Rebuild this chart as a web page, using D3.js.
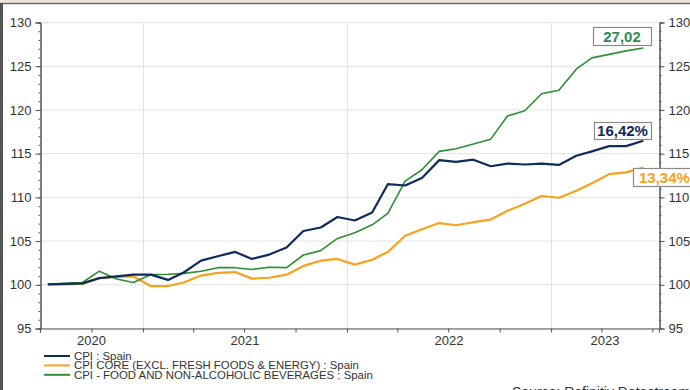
<!DOCTYPE html>
<html>
<head>
<meta charset="utf-8">
<script src="https://cdn.jsdelivr.net/npm/d3@7"></script>
<style>
    body { margin: 0; background: #fff; }
    svg { display: block; font-family: "Liberation Sans", Arial, sans-serif; }
</style>
</head>
<body>
<div id="chart"></div>
<script>

// monthly index, Jul 2020 = 100
var months = [
    "2020-07", "2020-08", "2020-09", "2020-10", "2020-11", "2020-12",
    "2021-01", "2021-02", "2021-03", "2021-04", "2021-05", "2021-06",
    "2021-07", "2021-08", "2021-09", "2021-10", "2021-11", "2021-12",
    "2022-01", "2022-02", "2022-03", "2022-04", "2022-05", "2022-06",
    "2022-07", "2022-08", "2022-09", "2022-10", "2022-11", "2022-12",
    "2023-01", "2023-02", "2023-03", "2023-04", "2023-05", "2023-06"
];
var cpi = [
    100.0, 100.05, 100.1, 100.7, 100.9, 101.1,
    101.1, 100.5, 101.35, 102.7, 103.2, 103.7,
    102.9, 103.4, 104.2, 106.1, 106.5, 107.7,
    107.3, 108.2, 111.45, 111.3, 112.15, 114.2,
    114.0, 114.25, 113.5, 113.8, 113.7, 113.8,
    113.65, 114.7, 115.2, 115.8, 115.8, 116.42
];
var cpiCore = [
    100.0, 100.0, 100.05, 100.7, 100.85, 100.9,
    99.8, 99.8, 100.2, 101.0, 101.3, 101.4,
    100.65, 100.75, 101.1, 102.1, 102.7, 102.9,
    102.25, 102.8, 103.7, 105.55, 106.3, 107.0,
    106.75, 107.1, 107.4, 108.4, 109.2, 110.1,
    109.9, 110.7, 111.55, 112.6, 112.8, 113.34
];
var cpiFood = [
    100.0, 100.1, 100.2, 101.5, 100.6, 100.2,
    101.1, 101.15, 101.25, 101.5, 101.9, 101.9,
    101.7, 101.95, 101.9, 103.35, 103.85, 105.25,
    105.9, 106.8, 108.1, 111.8, 113.1, 115.2,
    115.5, 116.05, 116.6, 119.25, 119.85, 121.8,
    122.2, 124.6, 125.9, 126.3, 126.7, 127.02
];
var seriesNames = [
    "CPI : Spain",
    "CPI CORE (EXCL. FRESH FOODS & ENERGY) : Spain",
    "CPI - FOOD AND NON-ALCOHOLIC BEVERAGES : Spain"
];
var endLabels = ["16,42%", "13,34%", "27,02"];
var yTicks = [95, 100, 105, 110, 115, 120, 125, 130];
var years = [2020, 2021, 2022, 2023];

var colors = ["#0f2a5c", "#f9a11b", "#2b8f33"];
var labelColors = ["#0f2a5c", "#f9a11b", "#2e8b57"];

function drawChart() {
    var width = 690, height = 390;
    var left = 40, right = 659, top = 22, bottom = 328;

    var parse = d3.timeParse("%Y-%m-%d");
    var dates = months.map(function (m) { return parse(m + "-15"); });

    var x = d3.scaleTime()
        .domain([parse("2020-07-01"), parse("2023-07-13")])
        .range([left, right]);
    var y = d3.scaleLinear()
        .domain([95, 130])
        .range([bottom, top]);

    var svg = d3.select("#chart")
        .append("svg")
        .attr("width", width)
        .attr("height", height);

    // outer frame (top + left edge of the screenshot)
    svg.append("rect").attr("x", 0).attr("y", 0).attr("width", width).attr("height", 3)
        .attr("fill", "#efe7dc");
    svg.append("line").attr("x1", 0).attr("x2", width).attr("y1", 3.5).attr("y2", 3.5)
        .attr("stroke", "#6b6b6b").attr("stroke-width", 1.5);
    svg.append("line").attr("x1", 1.5).attr("x2", 1.5).attr("y1", 3).attr("y2", height)
        .attr("stroke", "#555").attr("stroke-width", 3);

    // grid
    svg.append("g").selectAll("line")
        .data(yTicks)
        .enter()
        .append("line")
        .attr("x1", left).attr("x2", right)
        .attr("y1", function (d) { return y(d) + 0.5; })
        .attr("y2", function (d) { return y(d) + 0.5; })
        .attr("stroke", "#e3e3e3");

    var yearStarts = [2021, 2022, 2023].map(function (yr) { return new Date(yr, 0, 1); });
    svg.append("g").selectAll("line")
        .data(yearStarts)
        .enter()
        .append("line")
        .attr("x1", function (d) { return Math.round(x(d)) + 0.5; })
        .attr("x2", function (d) { return Math.round(x(d)) + 0.5; })
        .attr("y1", top).attr("y2", bottom)
        .attr("stroke", "#e3e3e3");

    // left / right axes with minor ticks
    var minor = d3.range(95, 131);
    var axL = d3.axisLeft(y).tickValues(yTicks).tickSize(5).tickPadding(4);
    svg.append("g").attr("transform", "translate(" + (left + 0.5) + ",0.5)").call(axL);
    var axLm = d3.axisLeft(y).tickValues(minor).tickSize(2).tickFormat("");
    svg.append("g").attr("transform", "translate(" + (left + 0.5) + ",0.5)").call(axLm);

    var axR = d3.axisRight(y).tickValues(yTicks).tickSize(5).tickPadding(4);
    svg.append("g").attr("transform", "translate(" + (right + 0.5) + ",0.5)").call(axR);
    var axRm = d3.axisRight(y).tickValues(minor).tickSize(2).tickFormat("");
    svg.append("g").attr("transform", "translate(" + (right + 0.5) + ",0.5)").call(axRm);

    // bottom axis, quarterly ticks
    var quarters = d3.timeMonth.every(3).range(parse("2020-07-01"), parse("2023-07-13"));
    var axB = d3.axisBottom(x).tickValues(quarters).tickSize(4).tickFormat("");
    svg.append("g").attr("transform", "translate(0," + (bottom + 0.5) + ")").call(axB);

    svg.selectAll(".domain").attr("stroke", "#555");
    svg.selectAll(".tick line").attr("stroke", "#555");
    svg.selectAll(".tick text").attr("fill", "#333").attr("font-size", 13)
        .attr("font-family", "Liberation Sans, Arial, sans-serif");

    // year labels centred in the visible part of each year
    svg.append("g").selectAll("text")
        .data(years)
        .enter()
        .append("text")
        .attr("x", function (d) {
            var a = Math.max(x(new Date(d, 0, 1)), left);
            var b = Math.min(x(new Date(d + 1, 0, 1)), right);
            return (a + b) / 2;
        })
        .attr("y", 345)
        .attr("text-anchor", "middle")
        .attr("font-size", 13)
        .attr("fill", "#333")
        .text(function (d) { return d; });

    // lines
    var allSeries = [cpi, cpiCore, cpiFood];
    var line = d3.line()
        .x(function (d, i) { return x(dates[i]); })
        .y(function (d) { return y(d); });

    var drawOrder = [1, 2, 0];
    drawOrder.forEach(function (k) {
        svg.append("path")
            .datum(allSeries[k])
            .attr("d", line)
            .attr("fill", "none")
            .attr("stroke", colors[k])
            .attr("stroke-width", k == 2 ? 1.6 : 2.2)
            .attr("stroke-linejoin", "round");
    });

    // end value boxes
    var boxes = [
        { k: 0, x: 594, y: 122, w: 57, h: 17 },
        { k: 1, x: 633, y: 168, w: 62, h: 18 },
        { k: 2, x: 593, y: 27, w: 58, h: 18 }
    ];
    boxes.forEach(function (b) {
        svg.append("rect")
            .attr("x", b.x + 0.5).attr("y", b.y + 0.5)
            .attr("width", b.w).attr("height", b.h)
            .attr("fill", "#fff")
            .attr("stroke", "#8a8a8a")
            .attr("stroke-width", 1.2);
        svg.append("text")
            .attr("x", b.k == 1 ? b.x + 6 : b.x + b.w / 2)
            .attr("y", b.y + b.h / 2 + 5.5)
            .attr("text-anchor", b.k == 1 ? "start" : "middle")
            .attr("font-size", 15)
            .attr("font-weight", "bold")
            .attr("fill", labelColors[b.k])
            .text(endLabels[b.k]);
    });

    // legend (tight rows, as in the original)
    var lg = svg.append("g").selectAll("g")
        .data(seriesNames)
        .enter()
        .append("g")
        .attr("transform", function (d, i) { return "translate(0," + (356 + i * 9.4) + ")"; });
    lg.append("line")
        .attr("x1", 44).attr("x2", 70)
        .attr("stroke", function (d, i) { return colors[i]; })
        .attr("stroke-width", 2);
    lg.append("text")
        .attr("x", 74).attr("y", 4)
        .attr("font-size", 11.4)
        .attr("fill", "#333")
        .text(function (d) { return d; });

    // source line, cut by the bottom edge like the screenshot
    svg.append("text")
        .attr("x", 512).attr("y", 397)
        .attr("font-size", 14)
        .attr("fill", "#333")
        .text("Source: Refinitiv Datastream");
}

drawChart();
</script>
</body>
</html>
